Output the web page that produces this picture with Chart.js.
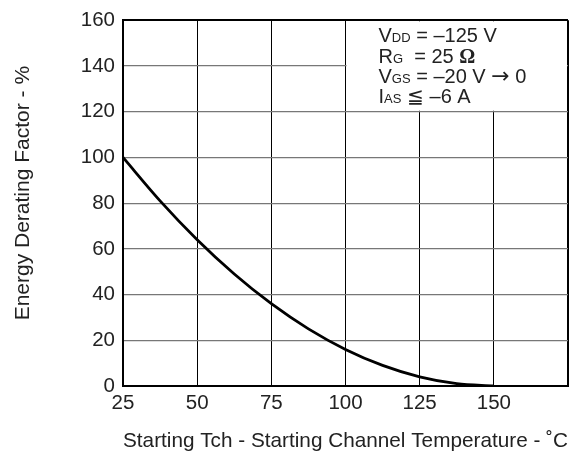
<!DOCTYPE html>
<html>
<head>
<meta charset="utf-8">
<script src="https://cdn.jsdelivr.net/npm/chart.js@4/dist/chart.umd.min.js"></script>
<style>
  html, body { margin: 0; padding: 0; background: #fff; }
  #wrap { width: 578px; height: 457px; }
</style>
</head>
<body>
<div id="wrap"><canvas id="c" width="578" height="457"></canvas></div>
<script>
// Data
const temps = [25, 37.5, 50, 62.5, 75, 87.5, 100, 112.5, 125, 137.5, 150];
const derating = [100, 81, 64, 49, 36, 25, 16, 9, 4, 1, 0];
const xTickValues = [25, 50, 75, 100, 125, 150, 175];
const xTickLabels = ['25', '50', '75', '100', '125', '150', ''];
const yTickValues = [0, 20, 40, 60, 80, 100, 120, 140, 160];
const xTitle = 'Starting Tch - Starting Channel Temperature - ˚C';
const yTitle = 'Energy Derating Factor - %';
// Condition box text: segments of [text, style]  (style: 'n' normal, 's' subscript, 'y' symbol)
const conditionLines = [
  [['V', 'n'], ['DD', 's'], [' = –125 V', 'n']],
  [['R', 'n'], ['G', 's'], ['  = 25 ', 'n'], ['Ω', 'b']],
  [['V', 'n'], ['GS', 's'], [' = –20 V ', 'n'], ['→', 'y'], [' 0', 'n']],
  [['I', 'n'], ['AS', 's'], [' ≦ –6 A', 'n']]
];

const FONT = "'Liberation Sans', Arial, sans-serif";
const TXT = '#222';

const boxPlugin = {
  id: 'condBox',
  beforeDatasetsDraw(chart) {
    const ctx = chart.ctx;
    const xs = chart.scales.x, ys = chart.scales.y;
    const l = xs.getPixelForValue(100), r = xs.getPixelForValue(175);
    const t = ys.getPixelForValue(160), b = ys.getPixelForValue(120);
    ctx.save();
    ctx.fillStyle = '#fff';
    ctx.fillRect(l + 1, t + 1, r - l - 2, b - t - 2);
    ctx.fillStyle = TXT;
    ctx.textBaseline = 'alphabetic';
    const x0 = l + 33;
    conditionLines.forEach((segs, i) => {
      let x = x0;
      const y = t + 22 + i * 20.3;
      segs.forEach(([s, st]) => {
        if (st === 's') ctx.font = '13px ' + FONT;
        else if (st === 'b') ctx.font = "bold 20px 'Liberation Serif', serif";
        else if (st === 'y') ctx.font = "22px 'DejaVu Sans', sans-serif";
        else ctx.font = '20px ' + FONT;
        ctx.fillText(s, x, y);
        x += ctx.measureText(s).width;
      });
    });
    ctx.restore();
  },
  afterDraw(chart) {
    const ctx = chart.ctx;
    const ys = chart.scales.y;
    ctx.save();
    ctx.translate(23, (ys.top + ys.bottom) / 2 - 10);
    ctx.rotate(-Math.PI / 2);
    ctx.font = '21px ' + FONT;
    ctx.fillStyle = TXT;
    ctx.textAlign = 'center';
    ctx.textBaseline = 'middle';
    ctx.fillText(yTitle, 0, 0);
    ctx.restore();
  }
};

new Chart(document.getElementById('c'), {
  type: 'line',
  data: {
    datasets: [{
      data: temps.map((t, i) => ({ x: t, y: derating[i] })),
      borderColor: '#000',
      borderWidth: 2.8,
      pointRadius: 0,
      cubicInterpolationMode: 'monotone',
      fill: false
    }]
  },
  options: {
    responsive: false,
    animation: false,
    devicePixelRatio: 1,
    layout: { padding: { top: 14, right: 10, left: 0, bottom: 0 } },
    plugins: { legend: { display: false }, tooltip: { enabled: false } },
    scales: {
      x: {
        type: 'linear',
        min: 25, max: 175,
        afterBuildTicks: (s) => { s.ticks = xTickValues.map(v => ({ value: v })); },
        afterFit: (s) => { s.height = 71; },
        ticks: {
          callback: (v) => xTickLabels[xTickValues.indexOf(v)],
          font: { family: FONT, size: 20.5 },
          color: TXT,
          padding: 5,
          maxRotation: 0,
          autoSkip: false
        },
        grid: {
          drawTicks: false,
          color: '#000',
          lineWidth: (c) => (c.tick && c.tick.value === 175 ? 2 : 1)
        },
        border: { display: true, color: '#000', width: 2 },
        title: {
          display: true, text: xTitle, color: TXT,
          font: { family: FONT, size: 21 },
          padding: { top: 4, bottom: 3 }
        }
      },
      y: {
        min: 0, max: 160,
        afterBuildTicks: (s) => { s.ticks = yTickValues.map(v => ({ value: v })); },
        afterFit: (s) => { s.width = 123; },
        ticks: {
          font: { family: FONT, size: 20.5 },
          color: TXT,
          padding: 8
        },
        grid: {
          drawTicks: false,
          color: (c) => (c.tick && c.tick.value === 160 ? '#000' : '#777'),
          lineWidth: (c) => (c.tick && c.tick.value === 160 ? 2 : 1.2)
        },
        border: { display: true, color: '#000', width: 2 },
        title: { display: false }
      }
    }
  },
  plugins: [boxPlugin]
});
</script>
</body>
</html>
